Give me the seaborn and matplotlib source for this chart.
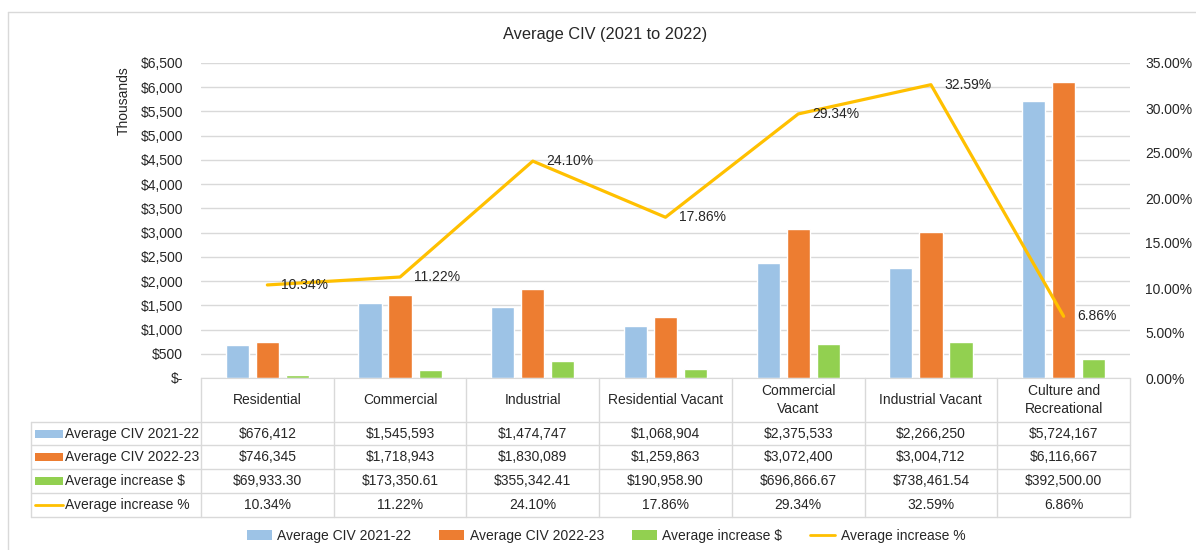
import numpy as np
import pandas as pd
import matplotlib
matplotlib.use('Agg')
import matplotlib.pyplot as plt
from matplotlib.lines import Line2D
from matplotlib.patches import Patch, Rectangle
from matplotlib.ticker import FuncFormatter
import seaborn as sns

# ── Data ──────────────────────────────────────────────────────────────────────
categories = ['Residential', 'Commercial', 'Industrial', 'Residential Vacant',
              'Commercial Vacant', 'Industrial Vacant', 'Culture and Recreational']
header_labels = ['Residential', 'Commercial', 'Industrial', 'Residential Vacant',
                 'Commercial\nVacant', 'Industrial Vacant', 'Culture and\nRecreational']
civ_2021 = [676412, 1545593, 1474747, 1068904, 2375533, 2266250, 5724167]
civ_2022 = [746345, 1718943, 1830089, 1259863, 3072400, 3004712, 6116667]
increase_dollar = [69933.30, 173350.61, 355342.41, 190958.90, 696866.67, 738461.54, 392500.00]
increase_pct = [10.34, 11.22, 24.10, 17.86, 29.34, 32.59, 6.86]

series_names = ['Average CIV 2021-22', 'Average CIV 2022-23', 'Average increase $', 'Average increase %']
colors = ['#9dc3e6', '#ed7d31', '#92d050', '#ffc000']

GRID = '#d9d9d9'
TXT = '#262626'

sns.set_style('white')
plt.rcParams['font.family'] = ['Liberation Sans', 'DejaVu Sans']
plt.rcParams['font.size'] = 10

df = pd.DataFrame({
    'category': categories * 3,
    'series': np.repeat(series_names[:3], len(categories)),
    'value': np.array(civ_2021 + civ_2022 + increase_dollar) / 1000.0,
})

W, H = 1196, 550
def fx(px):
    return px / W
def fy(py):
    return 1 - py / H

fig = plt.figure(figsize=(W / 100, H / 100), dpi=100)

# plot area in pixels
PL, PR, PT, PB = 201, 1130, 63, 378
ax = fig.add_axes([fx(PL), fy(PB), fx(PR) - fx(PL), fy(PT) - fy(PB)])

sns.barplot(data=df, x='category', y='value', hue='series', order=categories,
            hue_order=series_names[:3], palette=colors[:3], saturation=1,
            width=0.68, gap=0.23, legend=False, ax=ax, zorder=2)

ax.set_xlim(-0.5, len(categories) - 0.5)
ax.set_ylim(0, 6500)
ax.set_yticks(np.arange(0, 6501, 500))
ax.yaxis.set_major_formatter(FuncFormatter(lambda v, p: '$-' if v == 0 else f'${v:,.0f}'))
ax.set_xticks([])
ax.set_xlabel('')
ax.set_ylabel('')
ax.yaxis.grid(True, color=GRID, lw=1)
ax.set_axisbelow(True)
ax.tick_params(axis='y', length=0, pad=13, labelsize=10, labelcolor=TXT)
for s in ['top', 'left', 'right']:
    ax.spines[s].set_visible(False)
ax.spines['bottom'].set_color(GRID)

# secondary axis: % increase line
ax2 = ax.twinx()
x_idx = np.arange(len(categories))
pct = np.array(increase_pct) / 100
sns.lineplot(x=x_idx, y=pct, ax=ax2, color=colors[3], linewidth=2.3)
for i, v in enumerate(increase_pct):
    ax2.annotate(f'{v:.2f}%', (i, v / 100), xytext=(10, 0), textcoords='offset points',
                 ha='left', va='center', fontsize=10, color=TXT)
ax2.set_xlim(-0.5, len(categories) - 0.5)
ax2.set_ylim(0, 0.35)
ax2.set_yticks(np.arange(0, 0.351, 0.05))
ax2.yaxis.set_major_formatter(FuncFormatter(lambda v, p: f'{v * 100:.2f}%'))
ax2.tick_params(axis='y', length=0, pad=11, labelsize=10, labelcolor=TXT)
ax2.set_ylabel('')
for s in ax2.spines.values():
    s.set_visible(False)

fig.text(fx(605), fy(35), 'Average CIV (2021 to 2022)', ha='center', va='center',
         fontsize=11.8, color=TXT)
fig.text(fx(124), fy(101), 'Thousands', rotation=90, ha='center', va='center',
         fontsize=10, color=TXT)

# ── Data table below the chart ────────────────────────────────────────────────
def fline(xs, ys, **kw):
    fig.add_artist(Line2D([fx(x) for x in xs], [fy(y) for y in ys],
                          transform=fig.transFigure, **kw))

col_w = (PR - PL) / len(categories)
tab_left = 31
head_bot = 421.7
row_h = 23.75
row_edges = [head_bot + k * row_h for k in range(5)]

for y in row_edges:
    fline([tab_left, PR], [y, y], color=GRID, lw=1)
for k in range(len(categories) + 1):
    x = PL + k * col_w
    fline([x, x], [PB, row_edges[-1]], color=GRID, lw=1)
fline([tab_left, tab_left], [head_bot, row_edges[-1]], color=GRID, lw=1)

for k, lab in enumerate(header_labels):
    fig.text(fx(PL + (k + 0.5) * col_w), fy((PB + head_bot) / 2), lab, ha='center',
             va='center', fontsize=10, color=TXT, linespacing=1.35)

table_rows = [
    [f'${v:,.0f}' for v in civ_2021],
    [f'${v:,.0f}' for v in civ_2022],
    [f'${v:,.2f}' for v in increase_dollar],
    [f'{v:.2f}%' for v in increase_pct],
]
for r, (name, cells) in enumerate(zip(series_names, table_rows)):
    yc = row_edges[r] + row_h / 2
    if r < 3:
        fig.add_artist(Rectangle((fx(35), fy(yc + 4)), fx(63) - fx(35), fy(yc - 4) - fy(yc + 4),
                                 transform=fig.transFigure, facecolor=colors[r], edgecolor='none'))
    else:
        fline([35, 63], [yc, yc], color=colors[r], lw=2)
    fig.text(fx(65), fy(yc), name, ha='left', va='center', fontsize=10, color=TXT)
    for k, cell in enumerate(cells):
        fig.text(fx(PL + (k + 0.5) * col_w), fy(yc), cell, ha='center', va='center',
                 fontsize=10, color=TXT)

# legend
handles = [Patch(facecolor=c, edgecolor='none') for c in colors[:3]]
handles.append(Line2D([0], [0], color=colors[3], lw=2))
fig.legend(handles, series_names, loc='center', bbox_to_anchor=(fx(606), fy(536)),
           ncol=4, frameon=False, handlelength=1.8, handletextpad=0.4,
           columnspacing=2.0, fontsize=10, labelcolor=TXT)

# chart border
fline([8, 8], [12, H], color=GRID, lw=1)
fline([8, W], [12, 12], color=GRID, lw=1)

fig.savefig('out.png', dpi=100, facecolor='white')
